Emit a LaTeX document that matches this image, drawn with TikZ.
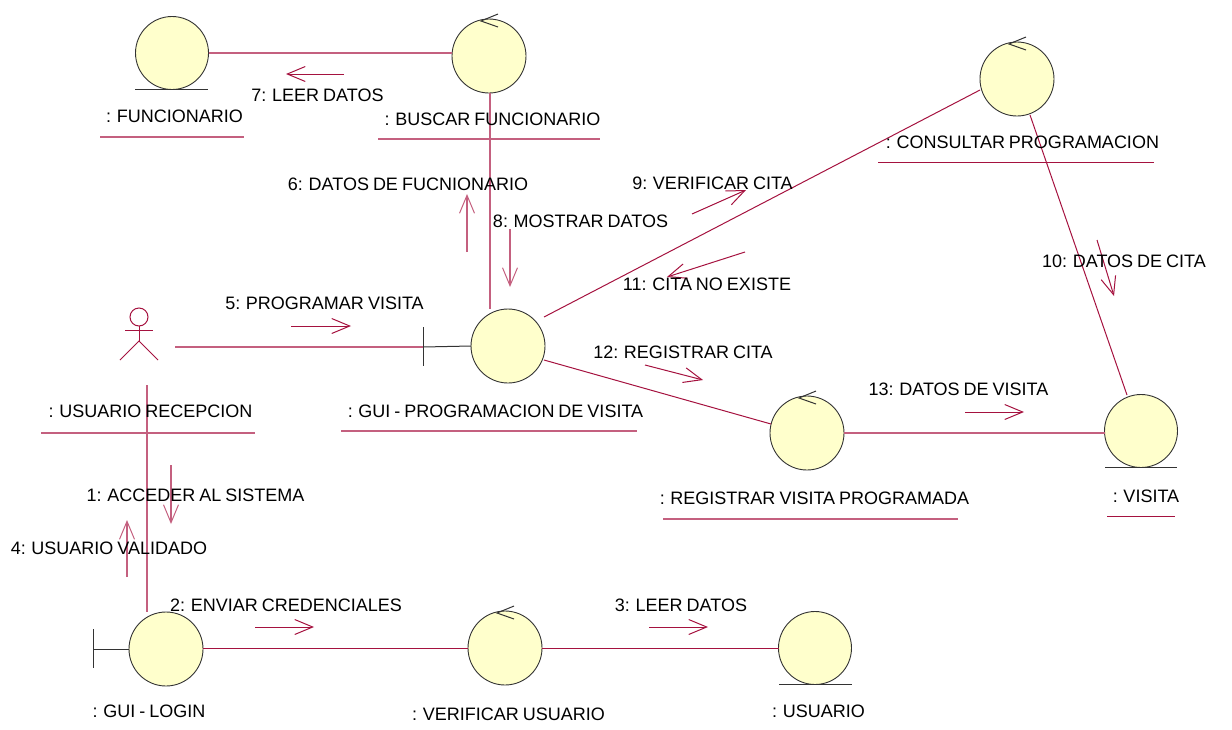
\documentclass[tikz,border=0pt]{standalone}
\usepackage{fontspec}
\setmainfont[WordSpace=0.8]{Liberation Sans}
\usetikzlibrary{arrows.meta}
\definecolor{umlline}{HTML}{A5123F}
\definecolor{umlsoft}{HTML}{C4607F}
\definecolor{umlfill}{HTML}{FFFFCC}
\definecolor{umlink}{HTML}{333333}
\tikzset{
  robust/.style={circle,draw=umlink,fill=umlfill,line width=0.9pt,minimum size=#1,inner sep=0pt,outer sep=0pt},
  robust/.default=73pt,
  link/.style={draw=umlline,line width=1pt},
  softlink/.style={draw=umlsoft,line width=1.6pt},
  msg/.style={draw=umlline,line width=1pt,-{Straight Barb[length=18pt,width=15pt,line width=1pt]}},
  softmsg/.style={draw=umlsoft,line width=1.6pt,-{Straight Barb[length=18pt,width=15pt,line width=1pt]}},
  glyph/.style={draw=umlink,line width=1pt},
  lab/.style={font=\fontsize{18}{20}\selectfont,text=black,inner sep=0pt,anchor=center},
  uline/.style={draw=umlline,line width=1pt},
  softline/.style={draw=umlsoft,line width=1.6pt}
}
\begin{document}
\begin{tikzpicture}[x=1pt,y=-1pt]
\useasboundingbox (0,0) rectangle (1232,729);
% actor and free ends
\coordinate (actorR) at (175,347);
\coordinate (actorB) at (147,385);
\coordinate (loginT) at (147,612);
\coordinate (gbar) at (423,347);
\coordinate (lbar) at (93,649);
% elements
\node[robust] (func) at (172,53) {};
\node[robust=74pt] (buscar) at (489,56) {};
\node[robust=74pt] (consul) at (1017,79) {};
\node[robust=74pt] (guiprog) at (508,346) {};
\node[robust=74pt] (regist) at (807,433) {};
\node[robust] (visita) at (1141,431) {};
\node[robust=74pt] (login) at (166,649) {};
\node[robust=74pt] (verif) at (505,648) {};
\node[robust] (usuario) at (815,648) {};
% entity bars
\draw[glyph] (135,89) -- (208,89);
\draw[glyph] (1105,467) -- (1177,467);
\draw[glyph] (779,684) -- (852,684);
% boundary
\draw[glyph] (guiprog.west) -- (gbar);
\draw[glyph] (423,327) -- (423,366);
\draw[glyph] (login.west) -- (lbar);
\draw[glyph] (93,629) -- (93,668);
% control arrows
\foreach \n/\x/\y in {buscar/489/56,consul/1017/79,regist/807/433,verif/505/648}{
  \draw[glyph] (\x+9,\y-42) -- (\x-8,\y-35) -- (\x+9,\y-29);
}
% actor
\draw[uline] (139,317) circle (9);
\draw[uline] (125,330) -- (153,330);
\draw[uline] (139,326) -- (139,341);
\draw[uline] (120,360) -- (139,341) -- (158,360);
% links
\draw[softlink] (func.east |- 0,53) -- (452,53);
\draw[softlink] (490,93) -- (490,309);
\draw[link] (980,90) -- (544,317);
\draw[link] (1030,115) -- (1127,395);
\draw[link] (544,360) -- (771,424);
\draw[softlink] (actorR) -- (gbar);
\draw[softlink] (actorB) -- (loginT);
\draw[link] (login.east |- 0,648) -- (verif.west);
\draw[link] (verif.east) -- (usuario.west);
\draw[softlink] (regist.east) -- (1105,433);
% message arrows
\draw[msg] (344,74) -- (286,74);
\draw[msg] (255,627) -- (314,627);
\draw[msg] (649,627) -- (708,627);
\draw[msg] (291,326) -- (351,326);
\draw[softmsg] (467,252) -- (467,194);
\draw[softmsg] (510,229) -- (510,287);
\draw[msg] (692,214) -- (746,190);
\draw[msg] (745,252) -- (667,277);
\draw[msg] (1097,240) -- (1114,296);
\draw[msg] (645,365) -- (703,380);
\draw[msg] (965,412) -- (1024,412);
\draw[softmsg] (171,465) -- (171,524);
\draw[softmsg] (127,577) -- (127,520);
% underlines
\draw[softline] (100,137) -- (244,137);
\draw[softline] (378,139) -- (600,139);
\draw[uline] (878,162) -- (1154,162);
\draw[softline] (341,431) -- (637,431);
\draw[softline] (663,519) -- (958,519);
\draw[uline] (1107,516) -- (1175,516);
\draw[softline] (41,433) -- (255,433);
% element labels
\node[lab] (lfunc) at (174.5,116) {: FUNCIONARIO};
\node[lab] (lbuscar) at (492.5,119) {: BUSCAR FUNCIONARIO};
\node[lab] (lconsul) at (1022.5,142) {: CONSULTAR PROGRAMACION};
\node[lab] (lgui) at (495.5,411) {: GUI - PROGRAMACION DE VISITA};
\node[lab] (lreg) at (814.5,498) {: REGISTRAR VISITA PROGRAMADA};
\node[lab] (lvis) at (1146,496) {: VISITA};
\node[lab] (lusr) at (150.5,411) {: USUARIO RECEPCION};
\node[lab] (llog) at (149,711) {: GUI - LOGIN};
\node[lab] (lver) at (508.5,714) {: VERIFICAR USUARIO};
\node[lab] (luso) at (818.5,711) {: USUARIO};
% message labels
\node[lab] (m1) at (195.5,495) {1: ACCEDER AL SISTEMA};
\node[lab] (m2) at (286,605) {2: ENVIAR CREDENCIALES};
\node[lab] (m3) at (681,605) {3: LEER DATOS};
\node[lab] (m4) at (109,548) {4: USUARIO VALIDADO};
\node[lab] (m5) at (324.5,303) {5: PROGRAMAR VISITA};
\node[lab] (m6) at (408,184) {6: DATOS DE FUCNIONARIO};
\node[lab] (m7) at (317.5,95) {7: LEER DATOS};
\node[lab] (m8) at (580.5,221) {8: MOSTRAR DATOS};
\node[lab] (m9) at (712.5,183) {9: VERIFICAR CITA};
\node[lab] (m10) at (1124,261) {10: DATOS DE CITA};
\node[lab] (m11) at (707,284) {11: CITA NO EXISTE};
\node[lab] (m12) at (683,352) {12: REGISTRAR CITA};
\node[lab] (m13) at (958.5,389) {13: DATOS DE VISITA};
\end{tikzpicture}
\end{document}
